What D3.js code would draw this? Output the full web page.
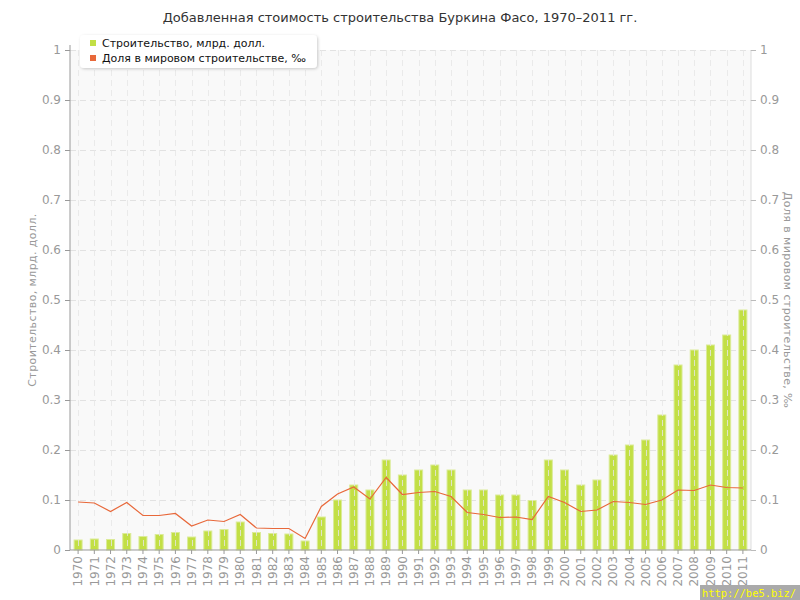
<!DOCTYPE html>
<html><head><meta charset="utf-8">
<script src="https://cdn.jsdelivr.net/npm/d3@7"></script>
<style>
body{margin:0;background:#fff;}
svg{display:block;font-family:"DejaVu Sans",sans-serif;}
</style></head><body>
<svg id="c" width="800" height="600"></svg>
<script>
const years = ["1970","1971","1972","1973","1974","1975","1976","1977","1978","1979","1980","1981","1982","1983","1984","1985","1986","1987","1988","1989","1990","1991","1992","1993","1994","1995","1996","1997","1998","1999","2000","2001","2002","2003","2004","2005","2006","2007","2008","2009","2010","2011"];
const construction = [0.02,0.022,0.021,0.033,0.027,0.031,0.035,0.026,0.038,0.041,0.056,0.035,0.033,0.032,0.018,0.066,0.1,0.13,0.12,0.18,0.15,0.16,0.17,0.16,0.12,0.12,0.11,0.11,0.099,0.18,0.16,0.13,0.14,0.19,0.21,0.22,0.27,0.37,0.40,0.41,0.43,0.48];
const share = [0.096,0.094,0.077,0.095,0.069,0.069,0.073,0.048,0.06,0.057,0.071,0.044,0.043,0.043,0.023,0.087,0.112,0.126,0.102,0.145,0.111,0.115,0.117,0.107,0.075,0.071,0.065,0.066,0.061,0.107,0.095,0.077,0.08,0.097,0.095,0.091,0.1,0.12,0.119,0.13,0.125,0.124];
const yTicks = [0,0.1,0.2,0.3,0.4,0.5,0.6,0.7,0.8,0.9,1];
const title = "Добавленная стоимость строительства Буркина Фасо, 1970–2011 гг.";
const leftTitle = "Строительство, млрд. долл.";
const rightTitle = "Доля в мировом строительстве, ‰";
const legendLabels = ["Строительство, млрд. долл.","Доля в мировом строительстве, ‰"];
const colors = {bar:"#c2df45", barEdge:"#dbeb98", line:"#e8683a"};

const svg = d3.select("#c");
const L=70,R=751,T=50,B=550;
const x = d3.scaleBand().domain(years).range([L,R]).padding(0);
const yL = d3.scaleLinear().domain([0,1]).range([B,T]);
const yR = d3.scaleLinear().domain([0,1]).range([B,T]);

svg.append("rect").attr("x",L).attr("y",T).attr("width",R-L).attr("height",B-T).attr("fill","#f9f9f9");

// horizontal grid
svg.append("g").selectAll("line").data(yTicks.slice(1)).join("line")
  .attr("x1",L).attr("x2",R).attr("y1",d=>yL(d)+0.5).attr("y2",d=>yL(d)+0.5)
  .attr("stroke","#e2e2e2").attr("stroke-dasharray","6,4");

// bars
svg.append("g").selectAll("rect").data(years).join("rect")
  .attr("x",d=>x(d)+x.bandwidth()/2-4).attr("width",8)
  .attr("y",(d,i)=>yL(construction[i])).attr("height",(d,i)=>B-yL(construction[i]))
  .attr("fill",colors.bar).attr("stroke",colors.barEdge).attr("stroke-width",1);

// vertical grid (over bars)
svg.append("g").selectAll("line").data(years).join("line")
  .attr("x1",d=>Math.round(x(d)+x.bandwidth()/2)+0.5).attr("x2",d=>Math.round(x(d)+x.bandwidth()/2)+0.5)
  .attr("y1",T).attr("y2",B)
  .attr("stroke","#e6e6e6").attr("stroke-opacity",0.8).attr("stroke-dasharray","6,4");

// line
svg.append("path").datum(share)
  .attr("d",d3.line().x((d,i)=>x(years[i])+x.bandwidth()/2).y(d=>yR(d)))
  .attr("fill","none").attr("stroke",colors.line).attr("stroke-width",1.2);

// axes
const axisCol="#999", txtCol="#999";
const gL = svg.append("g").attr("transform",`translate(${L},0)`)
  .call(d3.axisLeft(yL).tickValues(yTicks).tickFormat(d3.format("")).tickSize(5).tickPadding(4));
const gR = svg.append("g").attr("transform",`translate(${R},0)`)
  .call(d3.axisRight(yR).tickValues(yTicks).tickFormat(d3.format("")).tickSize(5).tickPadding(4));
const gX = svg.append("g").attr("transform",`translate(0,${B})`)
  .call(d3.axisBottom(x).tickSize(4).tickPadding(3));
[gL,gR,gX].forEach(g=>{
  g.selectAll("text").attr("fill",txtCol).attr("font-size",12).attr("font-family","DejaVu Sans");
  g.selectAll("line").attr("stroke",axisCol);
  g.select(".domain").attr("stroke",axisCol);
});
gL.select(".domain").attr("d",`M0,${T-5}V${B}`);
gR.select(".domain").attr("stroke","#ddd").attr("d",`M0,${T}V${B}`);
gR.selectAll(".tick line").attr("stroke","#bbb");
gX.select(".domain").attr("d",`M${L},0H${R}`);
gX.selectAll("text").attr("transform","rotate(-90)").attr("text-anchor","end")
  .attr("x",-6).attr("y",0).attr("dy","0.35em");

// titles
svg.append("text").attr("x",400).attr("y",22).attr("text-anchor","middle")
  .attr("font-size",13).attr("fill","#333").text(title);
svg.append("text").attr("transform",`translate(36,${(T+B)/2}) rotate(-90)`).attr("text-anchor","middle")
  .attr("font-size",11).attr("letter-spacing",0.4).attr("fill",txtCol).text(leftTitle);
svg.append("text").attr("transform",`translate(784,${(T+B)/2}) rotate(90)`).attr("text-anchor","middle")
  .attr("font-size",11).attr("letter-spacing",0.4).attr("fill",txtCol).text(rightTitle);

// legend
const defs = svg.append("defs");
const f = defs.append("filter").attr("id","sh").attr("x","-10%").attr("y","-30%").attr("width","120%").attr("height","160%");
f.append("feDropShadow").attr("dx",1).attr("dy",1).attr("stdDeviation",1.5).attr("flood-color","#000").attr("flood-opacity",0.2);
const lg = svg.append("g");
lg.append("rect").attr("x",80).attr("y",35).attr("width",237).attr("height",33).attr("rx",4)
  .attr("fill","#fff").attr("filter","url(#sh)");
legendLabels.forEach((t,i)=>{
  lg.append("rect").attr("x",90).attr("y",40+i*15).attr("width",6).attr("height",6)
    .attr("fill",i===0?colors.bar:colors.line);
  lg.append("text").attr("x",102).attr("y",47+i*15).attr("font-size",11).attr("fill","#111").text(t);
});

// watermark
svg.append("rect").attr("x",700).attr("y",585).attr("width",100).attr("height",15).attr("fill","#aaa");
svg.append("text").attr("x",702).attr("y",597).attr("font-size",11).attr("fill","#ffff00")
  .attr("font-family","DejaVu Sans Mono").attr("textLength",94).attr("lengthAdjust","spacingAndGlyphs")
  .text("http://be5.biz/");
</script></body></html>
